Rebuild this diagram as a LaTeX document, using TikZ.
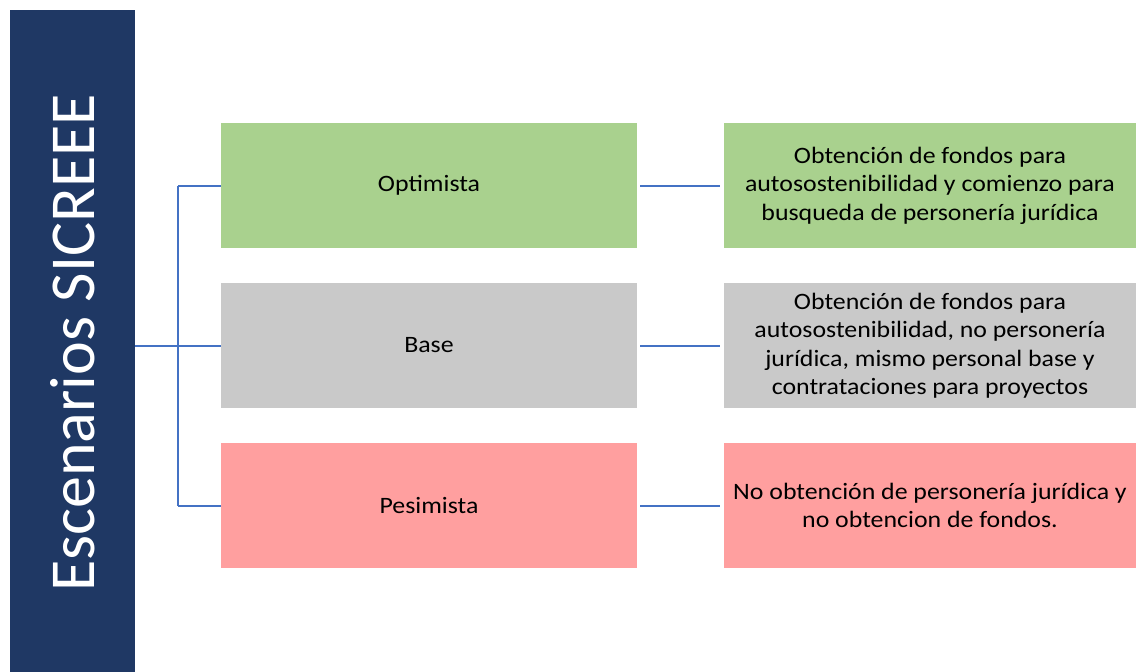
\documentclass[tikz,border=0pt]{standalone}
\usepackage{fontspec}
\setmainfont{Carlito}[FakeStretch=1.1]
\newfontfamily\titulofont{Carlito}
\definecolor{barblue}{RGB}{31,56,100}
\definecolor{linkblue}{RGB}{68,114,196}
\definecolor{optgreen}{RGB}{169,209,142}
\definecolor{basegray}{RGB}{201,201,201}
\definecolor{pesred}{RGB}{255,159,159}
\tikzset{
	caja/.style={rectangle, minimum width=416pt, minimum height=125pt, inner sep=2pt, align=center, font=\fontsize{23.5}{28.5}\selectfont},
	cajader/.style={caja, minimum width=412pt},
	enlace/.style={draw=linkblue, line width=2pt},
}
\begin{document}
\begin{tikzpicture}[x=1pt, y=-1pt]
		\useasboundingbox (0,0) rectangle (1136,672);
		\node[fill=barblue, minimum width=125pt, minimum height=662pt, inner sep=0pt] (barra) at (72.5,341) {};
		\node[rotate=90, text=white, font=\titulofont\fontsize{64}{64}\selectfont] (titulo) at (72.5,343) {Escenarios SICREEE};

		\node[caja, fill=optgreen] (opt) at (429,185.5) {Optimista};
		\node[caja, fill=basegray] (base) at (429,345.5) {Base};
		\node[caja, fill=pesred] (pes) at (429,505.5) {Pesimista};

		\node[cajader, fill=optgreen] (optdes) at (930,185.5) {Obtención de fondos para\\autosostenibilidad y comienzo para\\busqueda de personería jurídica};
		\node[cajader, fill=basegray] (basedes) at (930,345.5) {Obtención de fondos para\\autosostenibilidad, no personería\\jurídica, mismo personal base y\\contrataciones para proyectos};
		\node[cajader, fill=pesred] (pesdes) at (930,505.5) {No obtención de personería jurídica y\\no obtencion de fondos.};

		\coordinate (tronco) at (178,345.5);
		\draw[enlace] (barra.east |- tronco) -- (tronco);
		\draw[enlace] (tronco |- opt.west) -- (tronco |- pes.west);
		\draw[enlace] (tronco |- opt.west) -- (opt.west);
		\draw[enlace] (tronco) -- (base.west);
		\draw[enlace] (tronco |- pes.west) -- (pes.west);

		\draw[enlace, shorten <=3pt, shorten >=4pt] (opt.east) -- (optdes.west);
		\draw[enlace, shorten <=3pt, shorten >=4pt] (base.east) -- (basedes.west);
		\draw[enlace, shorten <=3pt, shorten >=4pt] (pes.east) -- (pesdes.west);
	\end{tikzpicture}
\end{document}
